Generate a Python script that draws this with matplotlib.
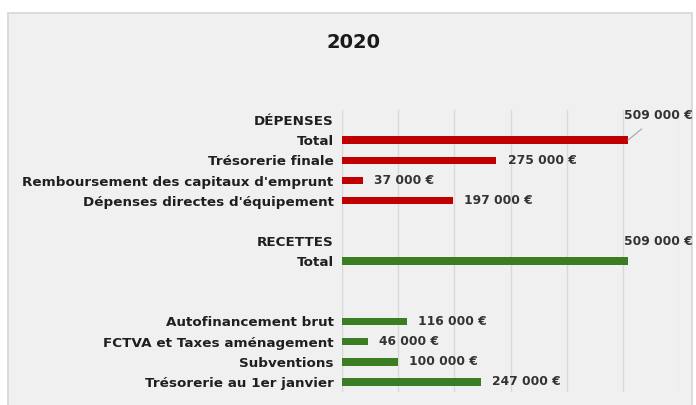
import matplotlib
matplotlib.use("Agg")
import matplotlib.pyplot as plt
from matplotlib.patches import Rectangle

# rows top to bottom; None = header/blank row with no bar
categories = [
    "DÉPENSES",
    "Total",
    "Trésorerie finale",
    "Remboursement des capitaux d'emprunt",
    "Dépenses directes d'équipement",
    "",
    "RECETTES",
    "Total",
    "",
    "",
    "Autofinancement brut",
    "FCTVA et Taxes aménagement",
    "Subventions",
    "Trésorerie au 1er janvier",
]
values = [None, 509000, 275000, 37000, 197000, None,
          None, 509000, None, None, 116000, 46000, 100000, 247000]
groups = ["dep"] * 6 + ["rec"] * 8
title = "2020"

colors = {"dep": "#C00000", "rec": "#3B7D23"}
plt.rcParams["font.family"] = ["DejaVu Sans"]


def fmt(v):
    return f"{v:,}".replace(",", " ") + " €"


fig = plt.figure(figsize=(6.96, 4.05), dpi=100)
fig.patch.set_facecolor("white")
fig.patches.append(Rectangle((8 / 696, -0.05), 684 / 696, 1 - 13 / 405 + 0.05,
                             transform=fig.transFigure, facecolor="#F0F0F0",
                             edgecolor="#D6D6D6", linewidth=1.2, zorder=-10))

ax = fig.add_axes([342 / 696, 1 - 392 / 405, 337 / 696, 282 / 405])
ax.set_facecolor("none")

ypos = list(range(len(categories)))
for y, v, g in zip(ypos, values, groups):
    if v is None:
        continue
    ax.barh(y, v, height=0.37, color=colors[g], zorder=3)

ax.set_ylim(len(categories) - 0.5, -0.5)
ax.set_xlim(0, 600000)
ax.set_xticks(range(0, 600001, 100000))
ax.set_xticklabels([])
ax.set_yticks(ypos)
ax.set_yticklabels(categories, fontsize=9.7, fontweight="bold", color="#1F1F1F")
ax.tick_params(axis="both", length=0)
ax.tick_params(axis="y", pad=6)
ax.grid(axis="x", color="#D9D9D9", linewidth=1, zorder=0)
for sp in ax.spines.values():
    sp.set_visible(False)

lab = dict(fontsize=8.8, fontweight="bold", color="#333333")
for y, v, c, g in zip(ypos, values, categories, groups):
    if v is None:
        continue
    if c == "Total" and g == "dep":
        ax.annotate(fmt(v), xy=(v, y), xytext=(22, 18), textcoords="offset points",
                    ha="center", va="center",
                    arrowprops=dict(arrowstyle="-", color="#A6A6A6", lw=0.8,
                                    shrinkA=5, shrinkB=0), **lab)
    elif c == "Total":
        ax.annotate(fmt(v), xy=(v, y), xytext=(22, 14), textcoords="offset points",
                    ha="center", va="center", **lab)
    else:
        ax.annotate(fmt(v), xy=(v, y), xytext=(8, 0), textcoords="offset points",
                    ha="left", va="center", **lab)

fig.text(353 / 696, 1 - 43 / 405, title, ha="center", va="center",
         fontsize=14, fontweight="bold", color="#1A1A1A")

fig.savefig("out.png", dpi=100)
